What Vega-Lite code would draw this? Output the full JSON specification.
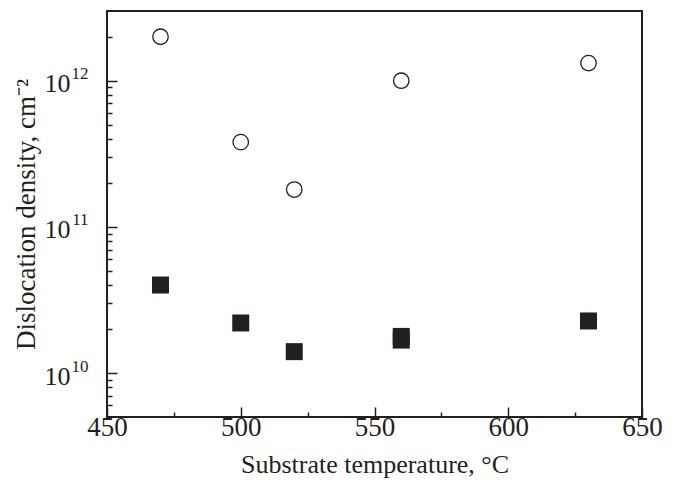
{
  "$schema": "https://vega.github.io/schema/vega-lite/v6.json",
  "width": 535,
  "height": 406,
  "autosize": "none",
  "padding": {"left": 107, "top": 11, "right": 36, "bottom": 63},
  "background": "white",
  "config": {
    "view": {"stroke": "#231f20", "strokeWidth": 2},
    "font": "Liberation Serif",
    "axis": {
      "domain": false,
      "grid": false,
      "tickColor": "#231f20",
      "tickWidth": 1.5,
      "labelColor": "#231f20",
      "titleColor": "#231f20",
      "labelFont": "Liberation Serif",
      "titleFont": "Liberation Serif",
      "labelFontSize": 27,
      "titleFontSize": 26,
      "titleFontWeight": "normal"
    }
  },
  "data": {
    "values": [
      {"T": 470, "density": 2.0e12, "method": "open"},
      {"T": 500, "density": 3.8e11, "method": "open"},
      {"T": 520, "density": 1.8e11, "method": "open"},
      {"T": 560, "density": 1.0e12, "method": "open"},
      {"T": 630, "density": 1.32e12, "method": "open"},
      {"T": 470, "density": 4.0e10, "method": "filled"},
      {"T": 500, "density": 2.2e10, "method": "filled"},
      {"T": 520, "density": 1.4e10, "method": "filled"},
      {"T": 560, "density": 1.78e10, "method": "filled"},
      {"T": 560, "density": 1.68e10, "method": "filled"},
      {"T": 630, "density": 2.27e10, "method": "filled"}
    ]
  },
  "encoding": {
    "x": {
      "field": "T",
      "type": "quantitative",
      "scale": {"domain": [450, 650], "nice": false, "zero": false},
      "axis": {
        "title": "Substrate temperature, °C",
        "values": [450, 475, 500, 525, 550, 575, 600, 625, 650],
        "labelExpr": "datum.value % 50 == 0 ? datum.label : ''",
        "tickSize": {"condition": {"test": "datum.value % 50 == 0", "value": -10}, "value": -5},
        "labelPadding": 7,
        "titlePadding": 11,
        "labelFlush": false
      }
    }
  },
  "layer": [
    {
      "transform": [{"filter": "datum.method == 'open'"}],
      "mark": {"type": "point", "shape": "circle", "size": 240, "filled": false, "stroke": "#231f20", "strokeWidth": 1.3, "fill": "white", "opacity": 1},
      "encoding": {
        "y": {
          "field": "density",
          "type": "quantitative",
          "scale": {"type": "log", "domain": [5e9, 3e12], "nice": false},
          "axis": {
            "orient": "left",
            "title": "Dislocation density, cm⁻²",
            "titleFontSize": 27,
            "values": [6e9, 7e9, 8e9, 9e9, 1e10, 2e10, 3e10, 4e10, 5e10, 6e10, 7e10, 8e10, 9e10, 1e11, 2e11, 3e11, 4e11, 5e11, 6e11, 7e11, 8e11, 9e11, 1e12, 2e12],
            "labelExpr": "(datum.value == 1e10 || datum.value == 1e11 || datum.value == 1e12) ? '10' : ''",
            "labelFontSize": 26,
            "tickSize": {"condition": {"test": "datum.value == 1e10 || datum.value == 1e11 || datum.value == 1e12", "value": -10}, "value": -5},
            "labelPadding": 47,
            "labelOffset": 3,
            "titlePadding": 4,
            "labelFlush": false
          }
        }
      }
    },
    {
      "transform": [{"filter": "datum.method == 'filled'"}],
      "mark": {"type": "square", "size": 289, "filled": true, "color": "#231f20", "opacity": 1},
      "encoding": {
        "y": {
          "field": "density",
          "type": "quantitative",
          "scale": {"type": "log", "domain": [5e9, 3e12], "nice": false},
          "axis": {
            "orient": "left",
            "title": null,
            "ticks": false,
            "values": [1e10, 1e11, 1e12],
            "labelExpr": "datum.value == 1e10 ? '10' : datum.value == 1e11 ? '11' : '12'",
            "labelFontSize": 17,
            "labelPadding": 19,
            "labelOffset": -7,
            "labelFlush": false
          }
        }
      }
    }
  ],
  "resolve": {"axis": {"y": "independent"}}
}
